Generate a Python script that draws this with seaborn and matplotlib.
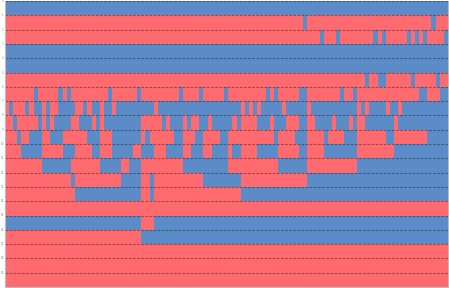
import numpy as np
import matplotlib
matplotlib.use("Agg")
import matplotlib.pyplot as plt
import seaborn as sns
from matplotlib.colors import ListedColormap

# one column per sample, one row per bit (0 = red, 1 = blue)
n_cols = 107
row_labels = [str(i) for i in range(20)]

# blue runs per row as (start, stop) column ranges, everything else is red
blue_runs = [
    [(0, 107)],
    [(72, 73), (103, 104)],
    [(76, 77), (80, 81), (89, 90), (91, 92), (97, 98), (99, 100), (101, 102), (106, 107)],
    [(0, 107)],
    [(0, 107)],
    [(87, 88), (90, 92), (98, 99), (104, 105)],
    [(7, 8), (13, 14), (15, 16), (25, 26), (32, 33), (42, 43), (47, 48), (53, 54), (63, 64),
     (65, 66), (71, 73), (81, 82), (84, 85), (100, 102), (105, 107)],
    [(1, 2), (5, 6), (7, 9), (10, 11), (13, 17), (19, 20), (21, 23), (24, 26), (27, 36),
     (37, 57), (58, 59), (60, 61), (62, 67), (68, 73), (74, 85), (86, 87), (88, 92), (93, 95), (96, 107)],
    [(2, 3), (8, 9), (10, 11), (12, 16), (18, 21), (22, 23), (24, 33), (38, 39), (40, 43),
     (44, 45), (47, 49), (50, 55), (56, 57), (61, 64), (65, 68), (71, 73), (75, 79), (80, 83),
     (84, 85), (87, 94), (95, 107)],
    [(3, 4), (6, 9), (11, 14), (20, 23), (26, 33), (34, 35), (41, 43), (46, 48), (52, 54), (65, 66),
     (70, 73), (77, 78), (82, 85), (92, 94), (102, 107)],
    [(4, 9), (14, 17), (21, 23), (26, 31), (33, 36), (39, 43), (45, 48), (50, 54), (55, 57),
     (61, 66), (71, 73), (77, 85), (94, 107)],
    [(9, 16), (23, 28), (30, 33), (43, 54), (66, 73), (85, 107)],
    [(16, 17), (28, 33), (35, 36), (48, 57), (73, 107)],
    [(17, 33), (35, 36), (57, 107)],
    [],
    [(0, 33), (36, 107)],
    [(33, 107)],
    [],
    [],
    [],
]

red = "#FF6B6E"
blue = "#5B8CC8"

grid = np.zeros((len(blue_runs), n_cols))
for r, runs in enumerate(blue_runs):
    for a, b in runs:
        grid[r, a:b] = 1

fig = plt.figure(figsize=(4.49, 2.88), dpi=100)
ax = fig.add_axes([4.5 / 449, 1 / 288, 443.5 / 449, 286 / 288])
sns.heatmap(grid, cmap=ListedColormap([red, blue]), vmin=0, vmax=1,
            cbar=False, linewidths=0, ax=ax)

# dashed separators at the top of every row
for y in range(len(blue_runs)):
    ax.axhline(y, color="black", alpha=0.35, lw=0.8, ls=(0, (2.5, 1.2)))

ax.set_xticks([])
ax.set_yticks(range(len(blue_runs)))
ax.set_yticklabels(row_labels, fontsize=2, color="#888888", rotation=0)
ax.tick_params(axis="y", length=0, pad=0.5)
for side in ["left", "bottom", "right"]:
    ax.spines[side].set_visible(True)
    ax.spines[side].set_color("#BBBBBB")
    ax.spines[side].set_linewidth(0.8)

fig.savefig("out.png", dpi=100)
